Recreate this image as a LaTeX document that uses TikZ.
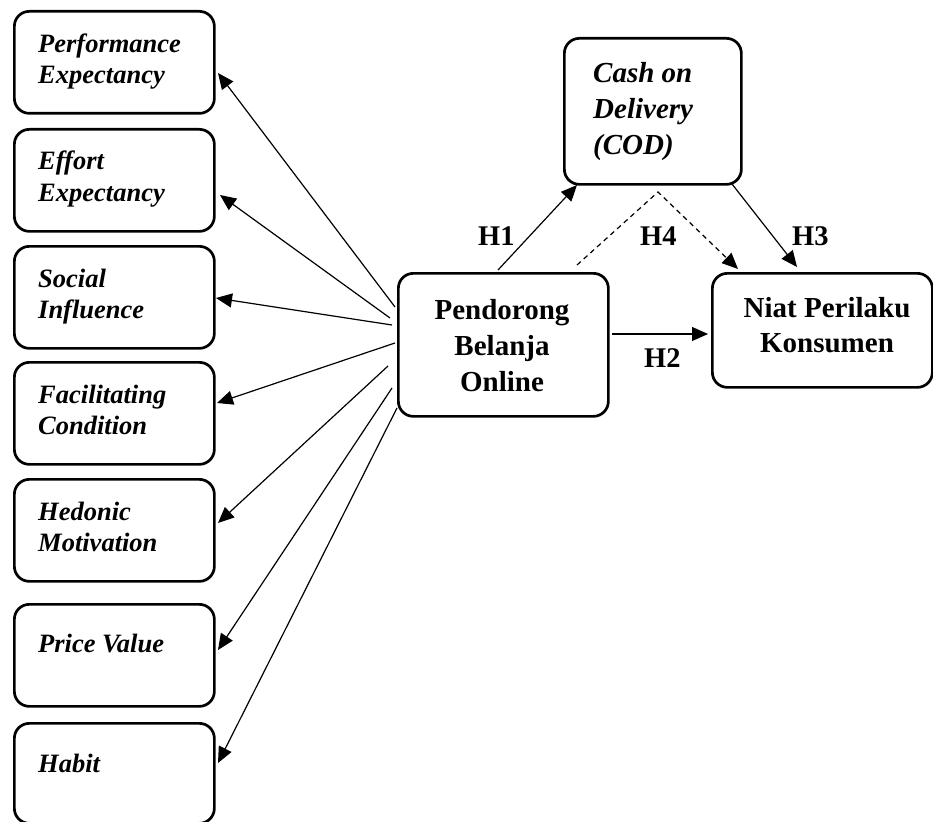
\documentclass[tikz,border=0pt]{standalone}
\usepackage{fontspec}
\setmainfont{Liberation Serif}
\usetikzlibrary{arrows.meta}
\begin{document}
\begin{tikzpicture}[x=1pt,y=-1pt,
  box/.style={draw, line width=2.7pt, rounded corners=15pt, anchor=north west, inner sep=0pt},
  lbox/.style={box, minimum width=200pt, minimum height=102pt},
  lbl/.style={anchor=base west, inner sep=0pt, font=\fontsize{26.5}{31}\selectfont\bfseries\itshape},
  clbl/.style={anchor=base, inner sep=0pt, font=\fontsize{29}{35}\selectfont\bfseries},
  codlbl/.style={anchor=base west, inner sep=0pt, font=\fontsize{29}{35}\selectfont\bfseries\itshape},
  hlbl/.style={anchor=base west, inner sep=0pt, font=\fontsize{28.5}{32}\selectfont\bfseries},
  arr/.style={line width=1.2pt, -{Triangle[length=16pt,width=14pt]}},
  darr/.style={arr, dash pattern=on 5pt off 4pt}
]
\useasboundingbox (0,0) rectangle (933,821);
\fill[white] (0,0) rectangle (933,821);

% left boxes
\node[lbox] (b1) at (13,10) {};
\node[lbox] (b2) at (13,128) {};
\node[lbox] (b3) at (13,245) {};
\node[lbox] (b4) at (13,361) {};
\node[lbox] (b5) at (13,478) {};
\node[lbox] (b6) at (13,603) {};
\node[box, minimum width=200pt, minimum height=100pt] (b7) at (13,722) {};

\node[lbl] (t1a) at (38,53) {Performance};
\node[lbl] (t1b) at (38,84) {Expectancy};
\node[lbl] (t2a) at (38,170) {Effort};
\node[lbl] (t2b) at (38,201) {Expectancy};
\node[lbl] (t3a) at (38,287) {Social};
\node[lbl] (t3b) at (38,318) {Influence};
\node[lbl] (t4a) at (38,403) {Facilitating};
\node[lbl] (t4b) at (38,434) {Condition};
\node[lbl] (t5a) at (38,520) {Hedonic};
\node[lbl] (t5b) at (38,551) {Motivation};
\node[lbl] (t6a) at (38,652) {Price Value};
\node[lbl] (t7a) at (38,772) {Habit};

% center, COD, Niat
\node[box, minimum width=210pt, minimum height=143pt] (P) at (397,272) {};
\node[clbl] (pa) at (502,319) {Pendorong};
\node[clbl] (pb) at (502,355) {Belanja};
\node[clbl] (pc) at (502,391) {Online};

\node[box, minimum width=177pt, minimum height=146pt] (C) at (563,37) {};
\node[codlbl] (ca) at (593,83) {Cash on};
\node[codlbl] (cb) at (593,119) {Delivery};
\node[codlbl] (cc) at (593,155) {(COD)};

\node[box, minimum width=220pt, minimum height=114pt] (N) at (711,272) {};
\node[clbl] (na) at (827,317) {Niat Perilaku};
\node[clbl] (nb) at (827,352) {Konsumen};

% H labels
\node[hlbl] (h1) at (478,245) {H1};
\node[hlbl] (h4) at (640,245) {H4};
\node[hlbl] (h3) at (792,245) {H3};
\node[hlbl] (h2) at (644,367) {H2};

% connector end points
\coordinate (s1) at (395,307); \coordinate (e1) at (218,73);
\coordinate (s2) at (390,318); \coordinate (e2) at (220,195);
\coordinate (s3) at (392,325); \coordinate (e3) at (216,298);
\coordinate (s4) at (395,343); \coordinate (e4) at (217,403);
\coordinate (s5) at (388,366); \coordinate (e5) at (218,523);
\coordinate (s6) at (392,388); \coordinate (e6) at (218,650);
\coordinate (s7) at (397,408); \coordinate (e7) at (218,763);

\draw[arr] (s1) -- (e1);
\draw[arr] (s2) -- (e2);
\draw[arr] (s3) -- (e3);
\draw[arr] (s4) -- (e4);
\draw[arr] (s5) -- (e5);
\draw[arr] (s6) -- (e6);
\draw[arr] (s7) -- (e7);

\coordinate (h1s) at (498,270); \coordinate (h1e) at (577,185);
\coordinate (h2s) at (612,334); \coordinate (h2e) at (708,334);
\coordinate (h3s) at (732,184); \coordinate (h3e) at (797,267);
\coordinate (h4s) at (577,265); \coordinate (h4m) at (658,192); \coordinate (h4e) at (738,269);

\draw[arr] (h1s) -- (h1e);
\draw[arr] (h2s) -- (h2e);
\draw[arr] (h3s) -- (h3e);
\draw[darr] (h4s) -- (h4m) -- (h4e);
\end{tikzpicture}
\end{document}
